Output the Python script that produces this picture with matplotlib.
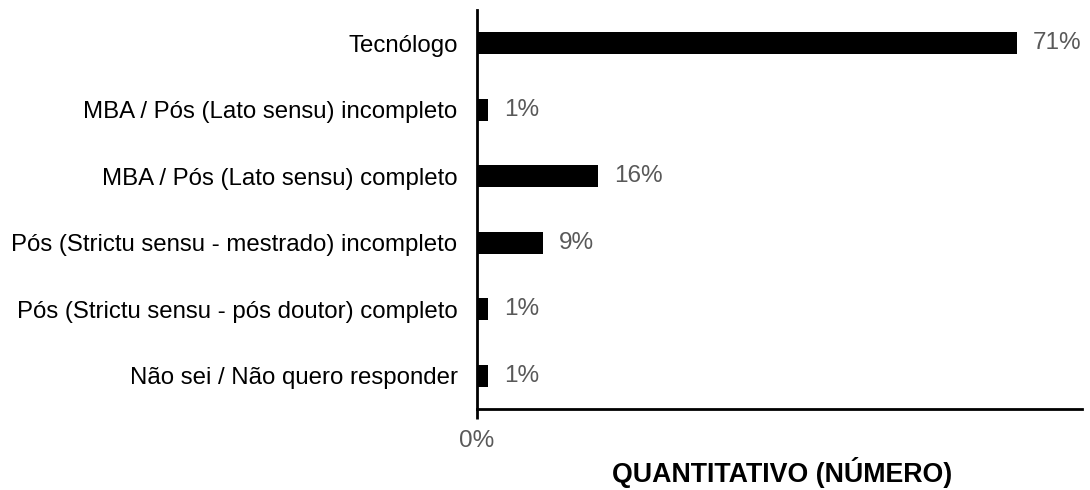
import matplotlib.pyplot as plt
import numpy as np

plt.rcParams['font.family'] = ['Liberation Sans', 'DejaVu Sans']

categories = ['Tecnólogo',
              'MBA / Pós (Lato sensu) incompleto',
              'MBA / Pós (Lato sensu) completo',
              'Pós (Strictu sensu - mestrado) incompleto',
              'Pós (Strictu sensu - pós doutor) completo',
              'Não sei / Não quero responder']
counts = [49, 1, 11, 6, 1, 1]
total = 69

pct = np.array(counts) / total * 100
y = np.arange(len(categories))

fig = plt.figure(figsize=(10.9, 4.9), dpi=100)
ax = fig.add_axes([0.4376, 0.165, 0.5551, 0.815])

ax.barh(y, pct, height=0.33, color='black')
for yi, p in zip(y, pct):
    ax.text(p + 2.1, yi, '{:.0f}%'.format(p), va='center', ha='left',
            fontsize=17.5, color='#595959')

ax.set_ylim(len(categories) - 0.5, -0.5)
ax.set_xlim(0, 79.6)
ax.set_yticks(y)
ax.set_yticklabels(categories, fontsize=17.3)
ax.tick_params(axis='y', length=0, pad=14)
ax.set_xticks([0])
ax.set_xticklabels(['0%'], fontsize=17.5, color='#595959')
ax.tick_params(axis='x', length=7, width=2, pad=8, direction='out')

for s in ['top', 'right']:
    ax.spines[s].set_visible(False)
for s in ['left', 'bottom']:
    ax.spines[s].set_linewidth(2)

# axis title sits close to the bottom edge, like the original
fig.text(0.7174, 0.016, 'QUANTITATIVO (NÚMERO)', fontsize=19.3, fontweight='bold',
         ha='center', va='baseline')

fig.savefig('out.png')
